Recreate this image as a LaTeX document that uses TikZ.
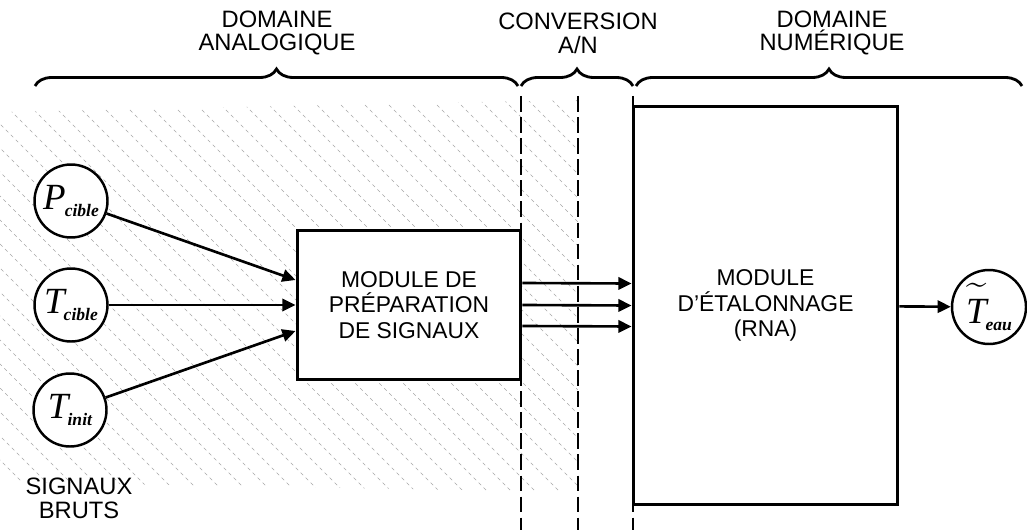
\documentclass[tikz,border=0pt]{standalone}
\usepackage{fontspec}
\usepackage{amsmath}
\setmainfont{Liberation Sans}
\newfontfamily\timesfont{Liberation Serif}
\usetikzlibrary{arrows.meta,decorations.pathreplacing}
% grandeur physique : lettre + indice
\newcommand{\grandeur}[2]{{\timesfont\itshape\fontsize{21}{21}\selectfont #1}\kern-0.5pt\raisebox{-4pt}{\timesfont\bfseries\itshape\fontsize{10}{10}\selectfont #2}}
\begin{document}
\begin{tikzpicture}[x=0.02cm,y=-0.02cm,
  signal/.style={circle,draw,line width=1.4pt,fill=white,minimum size=1.46cm,inner sep=0pt},
  bloc/.style={rectangle,draw,line width=1.7pt,fill=white,align=center,font=\fontsize{13}{14.5}\selectfont},
  titre/.style={align=center,font=\fontsize{13.5}{13.5}\selectfont},
  fleche/.style={line width=1.5pt,-{Triangle[length=7.5pt,width=7pt]}},
  pointille/.style={line width=1.2pt,dash pattern=on 9pt off 3pt},
  accolade/.style={line width=1.6pt,decorate,decoration={brace,amplitude=0.34cm}},
  hachure/.style={black!35,line width=0.35pt,dash pattern=on 2pt off 2pt}]
\useasboundingbox (0,0) rectangle (1027,530);

% zone hachuree (domaine analogique)
\begin{scope}
\clip (0,112) -- (578,100) -- (578,492) -- (0,482) -- cycle;
\foreach \i in {-18,...,25}
  \draw[hachure] (\i*24,100) -- ++(400,400);
\end{scope}

% domaines
\draw[accolade] (35,86) -- (518,86);
\draw[accolade] (521,86) -- (633,86);
\draw[accolade] (636,86) -- (1022,86);
\node[titre] (tana) at (277,33) {DOMAINE\\ANALOGIQUE};
\node[titre] (tconv) at (578,33) {CONVERSION\\A/N};
\node[titre] (tnum) at (832,33) {DOMAINE\\NUMÉRIQUE};
\foreach \x in {521,578,633}
  \draw[pointille] (\x,96) -- (\x,530);

% signaux bruts
\node[signal] (pcible) at (71,201) {\grandeur{P}{cible}};
\node[signal] (tcible) at (71,305) {\grandeur{T}{cible}};
\node[signal] (tinit) at (70,410) {\grandeur{T}{init}};
\node[titre] (bruts) at (79,498) {SIGNAUX\\BRUTS};

% modules
\node[bloc,minimum width=4.48cm,minimum height=2.98cm] (prep) at (409,305) {MODULE DE\\PRÉPARATION\\DE SIGNAUX};
\node[bloc,minimum width=5.3cm,minimum height=7.98cm] (etal) at (765.5,305.5) {MODULE\\D'ÉTALONNAGE\\(RNA)};
\node[signal,minimum size=1.48cm] (teau) at (989,307) {\grandeur{$\widetilde{\text{\raisebox{0pt}[17pt]{T}}}$}{eau}};

% liaisons
\draw[fleche] (pcible) -- ([yshift=0.5cm]prep.west);
\draw[fleche] (tcible) -- (prep.west);
\draw[fleche] (tinit) -- ([yshift=-0.52cm]prep.west);
\draw[fleche] ([yshift=0.44cm]prep.east) -- ([yshift=0.44cm]etal.west);
\draw[fleche] (prep.east) -- (etal.west);
\draw[fleche] ([yshift=-0.42cm]prep.east) -- ([yshift=-0.42cm]etal.west);
\draw[fleche] (etal) -- (teau);
\end{tikzpicture}
\end{document}
